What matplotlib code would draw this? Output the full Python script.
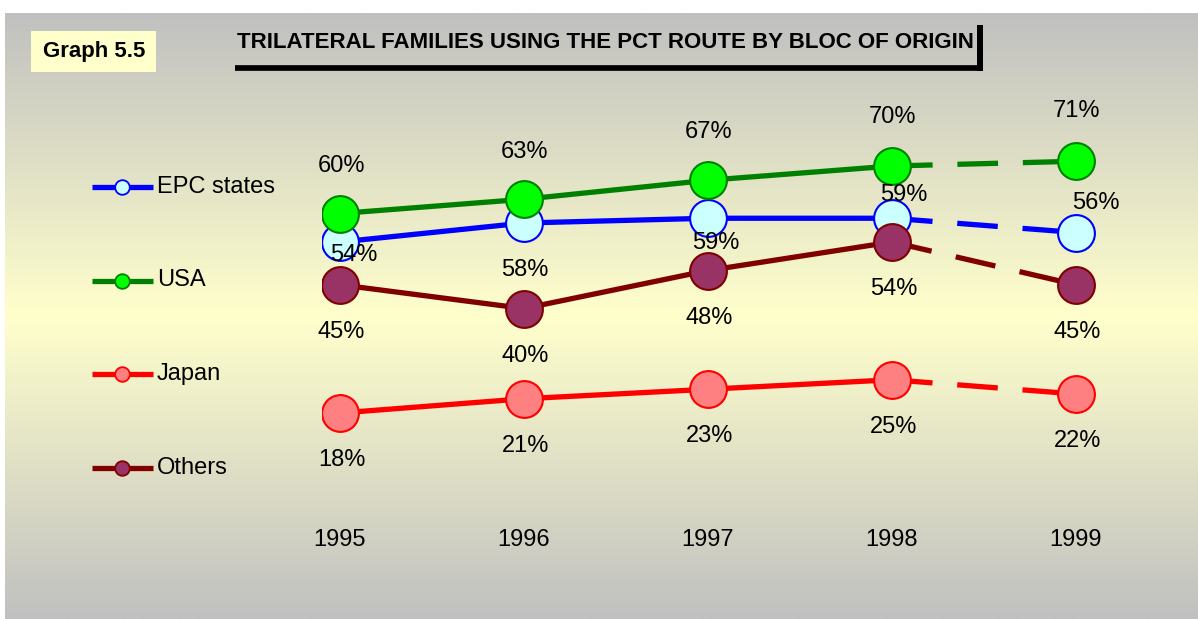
"""Graph 5.5: trilateral families using the PCT route by bloc of origin."""

import matplotlib

matplotlib.use("Agg")
import matplotlib.pyplot as plt  # noqa: E402
import numpy as np  # noqa: E402
from matplotlib.colors import LinearSegmentedColormap  # noqa: E402

years = [1995, 1996, 1997, 1998, 1999]
series_names = ["EPC states", "USA", "Japan", "Others"]
epc = [54, 58, 59, 59, 56]
usa = [60, 63, 67, 70, 71]
japan = [18, 21, 23, 25, 22]
others = [45, 40, 48, 54, 45]

title = "TRILATERAL FAMILIES USING THE PCT ROUTE BY BLOC OF ORIGIN"
badge = "Graph 5.5"

# styles: line colour, marker fill, marker edge
styles = {
    "EPC states": ("#0000FF", "#CCFFFF", "#0000FF"),
    "USA": ("#008000", "#00FF00", "#008000"),
    "Japan": ("#FF0000", "#FF8080", "#FF0000"),
    "Others": ("#800000", "#993366", "#800000"),
}
# label offsets in pixels (dx, dy with y downwards), as Excel placed them
label_offsets = {
    "EPC states": [(14, 13), (1, 46.5), (7.5, 25), (11.5, -23), (19.5, -29.5)],
    "USA": [(1.5, -48), (1, -47.5), (1, -48), (1, -49), (1, -50)],
    "Japan": [(1.5, 47)] * 5,
    "Others": [(1.5, 47)] * 5,
}

plt.rcParams["font.family"] = ["Liberation Sans", "DejaVu Sans"]

W, H = 1198, 619
fig = plt.figure(figsize=(W / 100, H / 100), dpi=100)
fig.patch.set_facecolor("white")

# background panel in pixel coordinates
bg = fig.add_axes([0, 0, 1, 1], zorder=0)
bg.set_xlim(0, W)
bg.set_ylim(H, 0)
bg.axis("off")
cmap = LinearSegmentedColormap.from_list("bgfade", ["#C0C0C0", "#FFFFCC", "#C0C0C0"])
grad = np.linspace(0, 1, 256).reshape(-1, 1)
bg.imshow(grad, cmap=cmap, aspect="auto", extent=[5, W, H, 13], interpolation="bilinear")
bg.set_xlim(0, W)
bg.set_ylim(H, 0)

# badge and title
bg.add_patch(plt.Rectangle((31, 31), 125, 41, facecolor="#FFFFCC", edgecolor="none"))
bg.text(94, 52, badge, ha="center", va="center", fontsize=16, fontweight="bold")
bg.text(237, 42, title, ha="left", va="center", fontsize=16, fontweight="bold")
bg.plot([235, 983], [68, 68], color="black", lw=4.1, solid_capstyle="butt")
bg.plot([980, 980], [25, 70.5], color="black", lw=4.3, solid_capstyle="butt")

# legend drawn by hand to keep Excel's spacing
for i, name in enumerate(series_names):
    lc, fc, ec = styles[name]
    y = 187 + i * 93.5
    bg.plot([92, 153], [y, y], color=lc, lw=3.8, solid_capstyle="butt")
    bg.plot([122], [y], "o", ms=10.5, mfc=fc, mec=ec, mew=1.3)
    bg.text(157, y, name, ha="left", va="center", fontsize=17)

# data axes: pixel 322..1195 horizontally, 90..498.5 vertically
ax = fig.add_axes([322 / W, (H - 498.5) / H, (1195 - 322) / W, (498.5 - 90) / H], zorder=1)
ax.patch.set_alpha(0)
ax.set_xlim(1995 - 18 / 184, 1999 + 119 / 184)
ax.set_ylim(0, 408.5 / 4.75)
for s in ax.spines.values():
    s.set_visible(False)
ax.set_yticks([])
ax.set_xticks(years)
ax.set_xticklabels([str(y) for y in years])
ax.tick_params(axis="x", length=0, pad=22, labelsize=17)

data = {"EPC states": epc, "USA": usa, "Japan": japan, "Others": others}
for name in series_names:
    lc = styles[name][0]
    vals = data[name]
    ax.plot(years[:4], vals[:4], color=lc, lw=3.8, zorder=2, solid_capstyle="butt")
    (dash,) = ax.plot(years[3:], vals[3:], color=lc, lw=3.8, zorder=2)
    dash.set_dashes((7.7, 4.7))

for k, name in enumerate(series_names):
    _, fc, ec = styles[name]
    vals = data[name]
    ax.plot(years, vals, "o", ls="none", ms=26.5, mfc=fc, mec=ec, mew=1.5, zorder=3 + k * 0.1)

for name in series_names:
    vals = data[name]
    for x, v, (dx, dy) in zip(years, vals, label_offsets[name]):
        ax.annotate(f"{v}%", (x, v), xytext=(dx * 0.72, -dy * 0.72), textcoords="offset points",
                    ha="center", va="center", fontsize=17, zorder=5)

fig.savefig("out.png", dpi=100)
